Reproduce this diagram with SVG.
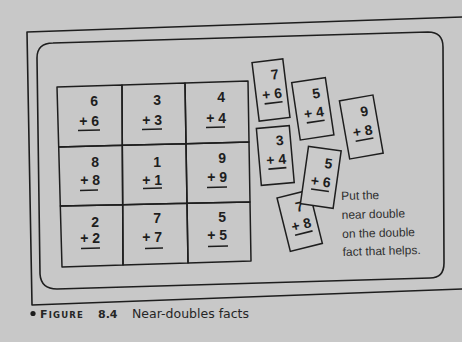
<svg xmlns="http://www.w3.org/2000/svg" width="462" height="342" viewBox="0 0 462 342">
<defs>
<style>
.ln{fill:none;stroke:#1e1e1e;stroke-width:1.6;stroke-linejoin:round;stroke-linecap:round}
.cell{fill:none;stroke:#1e1e1e;stroke-width:1.5;stroke-linejoin:round}
.crd{fill:#cacaca;stroke:#1e1e1e;stroke-width:1.5}
.num{font-family:"Liberation Sans",Arial,sans-serif;font-size:14px;font-weight:bold;fill:#1e1e1e;text-anchor:end}
.ul{stroke:#1e1e1e;stroke-width:1.6}
.note{font-family:"Liberation Sans",Arial,sans-serif;font-size:12px;fill:#2e2e2e}
.cap{font-family:"DejaVu Sans",sans-serif;fill:#262626}
</style>
</defs>
<rect width="462" height="342" fill="#c8c8c8"/>
<g id="frames">
<path class="ln" d="M462,17 L27,32 L32,305 L462,289"/>
<path class="ln" d="M53,43 L428,32 Q443,32 443,47 L444,263 Q444,278 430,278 L57,289 Q41,289 40,274 L37,58 Q37,43 53,43 Z"/>
</g>
<g id="grid">
<g id="cell-6-6"><polygon class="cell" points="57,87 122,85 122.3,145.3 58.7,147"/><text class="num" x="98" y="106">6</text><text class="num" x="99" y="126">+ 6</text><line class="ul" x1="78" y1="130.5" x2="100" y2="130"/></g>
<g id="cell-3-3"><polygon class="cell" points="122,85 185,83 186,143.7 122.3,145.3"/><text class="num" x="161" y="105">3</text><text class="num" x="162" y="125">+ 3</text><line class="ul" x1="142" y1="129.5" x2="162" y2="129"/></g>
<g id="cell-4-4"><polygon class="cell" points="185,83 248,81 249,142 186,143.7"/><text class="num" x="225" y="102">4</text><text class="num" x="226" y="123">+ 4</text><line class="ul" x1="206" y1="127.5" x2="225" y2="127"/></g>
<g id="cell-8-8"><polygon class="cell" points="58.7,147 122.3,145.3 122.7,204.7 60.3,206"/><text class="num" x="99" y="167">8</text><text class="num" x="100" y="185">+ 8</text><line class="ul" x1="80" y1="190.5" x2="98" y2="190"/></g>
<g id="cell-1-1"><polygon class="cell" points="122.3,145.3 186,143.7 187,203.3 122.7,204.7"/><text class="num" x="161" y="167">1</text><text class="num" x="162" y="185">+ 1</text><line class="ul" x1="143" y1="188.5" x2="162" y2="188"/></g>
<g id="cell-9-9"><polygon class="cell" points="186,143.7 249,142 250,202 187,203.3"/><text class="num" x="226" y="163">9</text><text class="num" x="227" y="182">+ 9</text><line class="ul" x1="207" y1="187.5" x2="227" y2="187"/></g>
<g id="cell-2-2"><polygon class="cell" points="60.3,206 122.7,204.7 123,265 62,267"/><text class="num" x="99" y="227">2</text><text class="num" x="100" y="243">+ 2</text><line class="ul" x1="81" y1="248.5" x2="100" y2="248"/></g>
<g id="cell-7-7"><polygon class="cell" points="122.7,204.7 187,203.3 188,263 123,265"/><text class="num" x="161" y="223">7</text><text class="num" x="162" y="242">+ 7</text><line class="ul" x1="145" y1="248.5" x2="163" y2="248"/></g>
<g id="cell-5-5"><polygon class="cell" points="187,203.3 250,202 251,261 188,263"/><text class="num" x="226" y="222">5</text><text class="num" x="227" y="240">+ 5</text><line class="ul" x1="208" y1="246.5" x2="228" y2="246"/></g>
</g>
<g id="card-7-6" transform="translate(271,90) rotate(-7)"><rect class="crd" x="-15.5" y="-29.5" width="31" height="59"/><text class="num" x="9.5" y="-10">7</text><text class="num" x="10.5" y="9">+ 6</text><line class="ul" x1="-8" y1="13" x2="10" y2="13"/></g>
<g id="card-5-4" transform="translate(312.8,108.8) rotate(-8.5)"><rect class="crd" x="-17" y="-29" width="34" height="58"/><text class="num" x="9.5" y="-10">5</text><text class="num" x="10.5" y="9">+ 4</text><line class="ul" x1="-8" y1="13" x2="10" y2="13"/></g>
<g id="card-9-8" transform="translate(361.3,127) rotate(-10)"><rect class="crd" x="-17" y="-29.5" width="34" height="59"/><text class="num" x="9.5" y="-10">9</text><text class="num" x="10.5" y="9">+ 8</text><line class="ul" x1="-8" y1="13" x2="10" y2="13"/></g>
<g id="card-3-4" transform="translate(275.3,155.5) rotate(-5)"><rect class="crd" x="-16.5" y="-28.5" width="33" height="57"/><text class="num" x="9.5" y="-10">3</text><text class="num" x="10.5" y="9">+ 4</text><line class="ul" x1="-8" y1="13" x2="10" y2="13"/></g>
<g id="card-7-8" transform="translate(299.7,220.7) rotate(-14)"><rect class="crd" x="-16.5" y="-27.5" width="33" height="55"/><text class="num" x="7" y="-9">7</text><text class="num" x="10.5" y="9">+ 8</text><line class="ul" x1="-8" y1="13" x2="10" y2="13"/></g>
<g id="card-5-6" transform="translate(320.8,177.3) rotate(8)"><rect class="crd" x="-16.5" y="-29" width="33" height="58"/><text class="num" x="9.5" y="-10">5</text><text class="num" x="10.5" y="9">+ 6</text><line class="ul" x1="-8" y1="13" x2="10" y2="13"/></g>
<g id="note" transform="rotate(-1.5 342 228)">
<text class="note" x="342" y="200">Put the</text>
<text class="note" x="342" y="219">near double</text>
<text class="note" x="342" y="238">on the double</text>
<text class="note" x="342" y="256">fact that helps.</text>
</g>
<g id="caption">
<circle cx="33" cy="313.5" r="2.6" fill="#1e1e1e"/>
<text class="cap" x="40" y="318" font-weight="bold" letter-spacing="1.2"><tspan font-size="11">F</tspan><tspan font-size="8.5">IGURE</tspan></text>
<text class="cap" x="98" y="318" font-weight="bold" font-size="11">8.4</text>
<text class="cap" x="132" y="318" font-size="12.5">Near-doubles facts</text>
</g>
</svg>
